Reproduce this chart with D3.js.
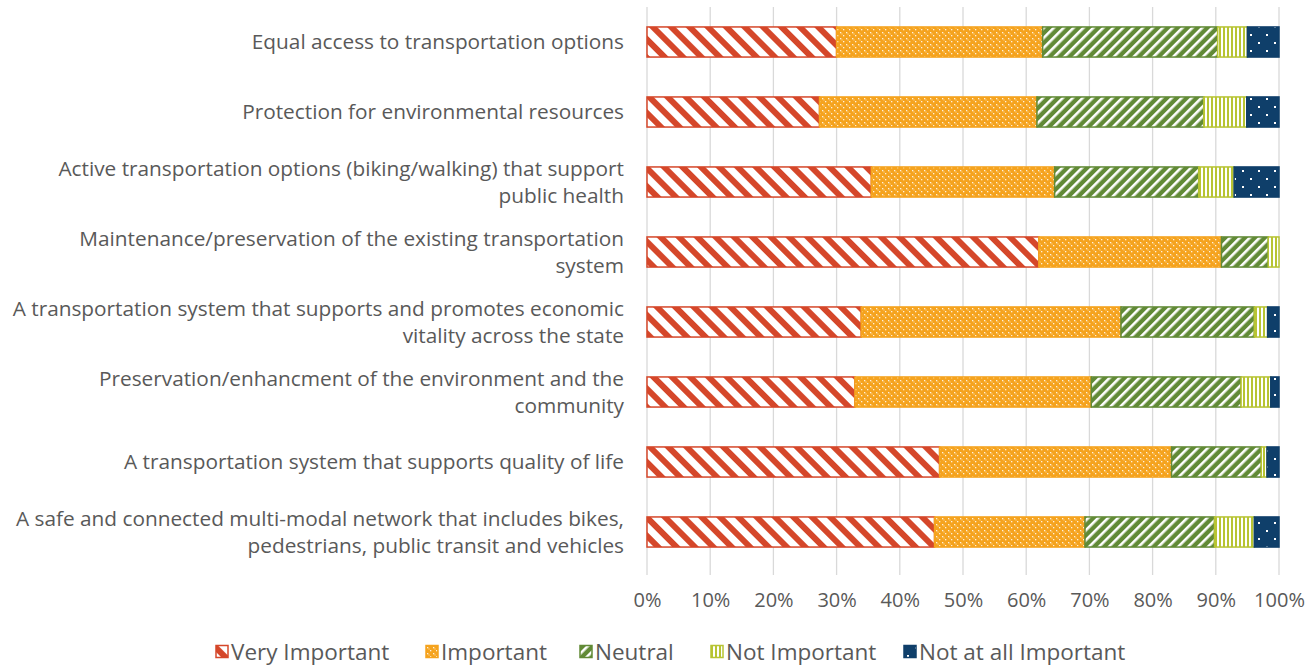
<!DOCTYPE html>
<html>
<head>
<meta charset="utf-8">
<script src="https://cdn.jsdelivr.net/npm/d3@7"></script>
<style>
  body { margin: 0; background: #fff; }
  text { font-family: "Open Sans", sans-serif; fill: #595959; }
</style>
</head>
<body>
<div id="plot"></div>
<script>
// categories, top to bottom
var categories = [
  "Equal access to transportation options",
  "Protection for environmental resources",
  "Active transportation options (biking/walking) that support|public health",
  "Maintenance/preservation of the existing transportation|system",
  "A transportation system that supports and promotes economic|vitality across the state",
  "Preservation/enhancment of the environment and the|community",
  "A transportation system that supports quality of life",
  "A safe and connected multi-modal network that includes bikes,|pedestrians, public transit and vehicles"
];
var seriesNames = ["Very Important", "Important", "Neutral", "Not Important", "Not at all Important"];
var veryImportant  = [30.0, 27.3, 35.5, 62.0, 33.9, 32.9, 46.3, 45.5];
var important      = [32.6, 34.4, 29.0, 28.9, 41.1, 37.4, 36.7, 23.8];
var neutral        = [27.7, 26.4, 22.8, 7.4, 21.1, 23.7, 14.2, 20.5];
var notImportant   = [4.7, 6.8, 5.6, 1.7, 2.1, 4.7, 0.9, 6.3];
var notAtAll       = [5.0, 5.1, 7.1, 0.0, 1.8, 1.3, 1.9, 3.9];
var tickValues = [0, 10, 20, 30, 40, 50, 60, 70, 80, 90, 100];

var seriesValues = [veryImportant, important, neutral, notImportant, notAtAll];
var colors = ["#d5472a", "#f5a31e", "#618a36", "#b7c433", "#0f3f6a"];

var margin = {top: 7, right: 36, bottom: 99, left: 647},
    width = 1315 - margin.left - margin.right,
    height = 666 - margin.top - margin.bottom;

var svg = d3.select("#plot")
  .append("svg")
    .attr("width", 1315)
    .attr("height", 666);

// patterns
var defs = svg.append("defs");

// very important: wide downward diagonal
var p0 = defs.append("pattern").attr("id", "pat0")
  .attr("patternUnits", "userSpaceOnUse").attr("width", 13).attr("height", 13)
  .attr("patternTransform", "rotate(-45)");
p0.append("rect").attr("width", 13).attr("height", 13).attr("fill", "#fff");
p0.append("rect").attr("width", 6).attr("height", 13).attr("fill", colors[0]);

// important: small white dots on orange
var p1 = defs.append("pattern").attr("id", "pat1")
  .attr("patternUnits", "userSpaceOnUse").attr("width", 6).attr("height", 6);
p1.append("rect").attr("width", 6).attr("height", 6).attr("fill", colors[1]);
p1.append("rect").attr("x", 1).attr("y", 1).attr("width", 1.3).attr("height", 1.3).attr("fill", "#fff").attr("opacity", 0.85);
p1.append("rect").attr("x", 4).attr("y", 4).attr("width", 1.3).attr("height", 1.3).attr("fill", "#fff").attr("opacity", 0.85);
p1.append("rect").attr("x", 2.5).attr("y", 2.5).attr("width", 1).attr("height", 1).attr("fill", "#fde2b0");

// neutral: upward diagonal
var p2 = defs.append("pattern").attr("id", "pat2")
  .attr("patternUnits", "userSpaceOnUse").attr("width", 7).attr("height", 7)
  .attr("patternTransform", "rotate(45)");
p2.append("rect").attr("width", 7).attr("height", 7).attr("fill", colors[2]);
p2.append("rect").attr("width", 2.6).attr("height", 7).attr("fill", "#fff");

// not important: vertical lines
var p3 = defs.append("pattern").attr("id", "pat3")
  .attr("patternUnits", "userSpaceOnUse").attr("width", 4).attr("height", 4);
p3.append("rect").attr("width", 4).attr("height", 4).attr("fill", "#fff");
p3.append("rect").attr("width", 2).attr("height", 4).attr("fill", colors[3]);

// not at all important: sparse white dots on navy
var p4 = defs.append("pattern").attr("id", "pat4")
  .attr("patternUnits", "userSpaceOnUse").attr("width", 16).attr("height", 16);
p4.append("rect").attr("width", 16).attr("height", 16).attr("fill", colors[4]);
p4.append("rect").attr("x", 3).attr("y", 3).attr("width", 2).attr("height", 2).attr("fill", "#fff");
p4.append("rect").attr("x", 11).attr("y", 11).attr("width", 2).attr("height", 2).attr("fill", "#fff");

var g = svg.append("g")
  .attr("transform", "translate(" + margin.left + "," + margin.top + ")");

var x = d3.scaleLinear().domain([0, 100]).range([0, width]);
var y = d3.scaleBand().domain(categories).range([0, height])
  .paddingInner(0.57).paddingOuter(0.285);

// gridlines
g.append("g").selectAll("line")
  .data(tickValues)
  .enter().append("line")
    .attr("x1", d => x(d)).attr("x2", d => x(d))
    .attr("y1", 0).attr("y2", height + 8)
    .attr("stroke", "#d9d9d9").attr("stroke-width", 1.3);

// x axis labels
var xAxis = g.append("g")
  .attr("transform", "translate(0," + height + ")")
  .call(d3.axisBottom(x).tickValues(tickValues).tickFormat(d => d + "%").tickSize(0).tickPadding(26));
xAxis.select(".domain").remove();
xAxis.selectAll("text").style("font-size", "20px").style("font-family", "'Open Sans', sans-serif").attr("fill", "#595959");

// stacked bars
var rows = categories.map(function(c, i) {
  var r = {cat: c};
  seriesNames.forEach(function(s, j) { r[s] = seriesValues[j][i]; });
  return r;
});
var stacked = d3.stack().keys(seriesNames)(rows);

stacked.forEach(function(layer, j) {
  g.append("g").selectAll("rect")
    .data(layer.filter(d => d[1] - d[0] > 0))
    .enter().append("rect")
      .attr("x", d => x(d[0]))
      .attr("y", d => y(d.data.cat))
      .attr("width", d => x(d[1]) - x(d[0]))
      .attr("height", y.bandwidth())
      .attr("fill", "url(#pat" + j + ")")
      .attr("stroke", colors[j])
      .attr("stroke-width", 1.5);
});

// category labels
var labels = g.append("g").selectAll("text")
  .data(categories)
  .enter().append("text")
    .attr("text-anchor", "end")
    .style("font-size", "20.8px")
    .attr("transform", d => "translate(-23," + (y(d) + y.bandwidth() / 2) + ")");
labels.each(function(d) {
  var lines = d.split("|");
  var t = d3.select(this);
  lines.forEach(function(line, k) {
    t.append("tspan").attr("x", 0)
      .attr("y", (k - (lines.length - 1) / 2) * 26.5)
      .attr("dy", "0.35em")
      .text(line);
  });
});

// legend
var legendX = [216, 426, 580, 711, 904];
var legend = svg.append("g").selectAll("g")
  .data(seriesNames)
  .enter().append("g")
    .attr("transform", (d, i) => "translate(" + legendX[i] + ",652)");
legend.append("rect")
  .attr("x", 0).attr("y", -6.5).attr("width", 12).attr("height", 12)
  .attr("fill", (d, i) => "url(#pat" + i + ")")
  .attr("stroke", (d, i) => colors[i]).attr("stroke-width", 1.5);
legend.append("text")
  .attr("x", 15).attr("dy", "0.35em")
  .style("font-size", "22.5px")
  .text(d => d);
</script>
</body>
</html>
